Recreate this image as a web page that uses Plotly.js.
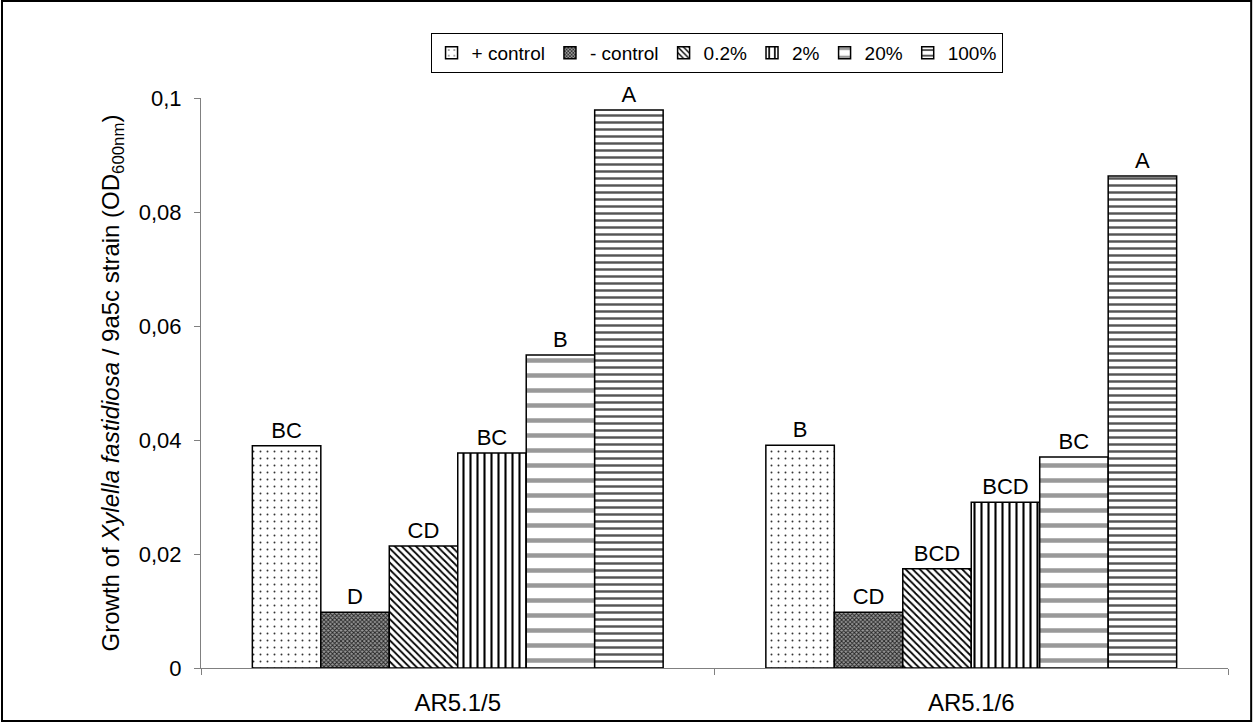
<!DOCTYPE html>
<html><head><meta charset="utf-8">
<script src="https://cdn.plot.ly/plotly-3.0.1.min.js"></script>
<style>html,body{margin:0;padding:0;background:#fff}#chart{width:1256px;height:723px}</style>
</head><body><div id="chart"></div>
<script>
const categories = ["AR5.1/5", "AR5.1/6"];
const seriesNames = ["+ control", "- control", "0.2%", "2%", "20%", "100%"];
const plusControl = [0.039, 0.0391];
const minusControl = [0.0098, 0.0098];
const conc02 = [0.0214, 0.0174];
const conc2 = [0.0377, 0.0291];
const conc20 = [0.0549, 0.0370];
const conc100 = [0.0979, 0.0863];
const letters = [["BC","B"],["D","CD"],["CD","BCD"],["BC","BCD"],["B","BC"],["A","A"]];
const yTickVals = [0, 0.02, 0.04, 0.06, 0.08, 0.1];
const yTickText = ["0", "0,02", "0,04", "0,06", "0,08", "0,1"];

const seriesValues = [plusControl, minusControl, conc02, conc2, conc20, conc100];
const patterns = [
  {shape: ".", size: 7, solidity: 0.06, fgcolor: "#333", bgcolor: "#fff"},
  {shape: "x", size: 3, solidity: 0.5, fgcolor: "#222", bgcolor: "#999"},
  {shape: "\\", size: 5, solidity: 0.35, fgcolor: "#000", bgcolor: "#fff"},
  {shape: "|", size: 7, solidity: 0.3, fgcolor: "#000", bgcolor: "#fff"},
  {shape: "-", size: 15, solidity: 0.3, fgcolor: "#999", bgcolor: "#fff"},
  {shape: "-", size: 7, solidity: 0.35, fgcolor: "#555", bgcolor: "#fff"}
];
const font = "Arial, 'Liberation Sans', sans-serif";
const traces = seriesNames.map((n, i) => ({
  type: "bar", name: n, x: categories, y: seriesValues[i],
  text: letters[i], textposition: "outside", cliponaxis: false,
  constraintext: "none",
  textfont: {family: font, size: 22, color: "#000"},
  marker: {color: "#fff", line: {color: "#000", width: 1.5}, pattern: patterns[i]},
  hoverinfo: "skip"
}));

const layout = {
  width: 1256, height: 723,
  margin: {l: 201, r: 28, t: 98, b: 55},
  paper_bgcolor: "#fff", plot_bgcolor: "#fff",
  font: {family: font, size: 16, color: "#000"},
  separators: ", ",
  barmode: "group", bargap: 0.2, bargroupgap: 0,
  showlegend: true,
  legend: {orientation: "h", x: 0.502, xanchor: "center", y: 1.114, yanchor: "top",
    bordercolor: "#000", borderwidth: 1, font: {family: font, size: 19},
    itemwidth: 30, tracegroupgap: 0},
  xaxis: {type: "category", showline: true, linecolor: "#808080", linewidth: 1,
    ticks: "outside", tickson: "boundaries", ticklen: 6, tickcolor: "#808080",
    ticklabelstandoff: 13, showgrid: false, zeroline: false,
    tickfont: {family: font, size: 24}},
  yaxis: {range: [0, 0.1], tickvals: yTickVals, ticktext: yTickText,
    showline: true, linecolor: "#808080", linewidth: 1, ticks: "outside",
    ticklen: 6, tickcolor: "#808080", ticklabelstandoff: 8, showgrid: false, zeroline: false,
    tickfont: {family: font, size: 22},
    title: {text: "Growth of <i>Xylella fastidiosa</i> / 9a5c strain (OD<sub>600nm</sub>)",
      font: {family: font, size: 24}, standoff: 12}},
  shapes: [{type: "rect", xref: "paper", yref: "paper",
    x0: -199/1027, x1: 1025/1027 + 0.0245, y0: -53/570, y1: 1 + 97/570,
    line: {color: "#000", width: 2}, fillcolor: "rgba(0,0,0,0)"}]
};
Plotly.newPlot("chart", traces, layout, {displayModeBar: false, staticPlot: true});
</script></body></html>
